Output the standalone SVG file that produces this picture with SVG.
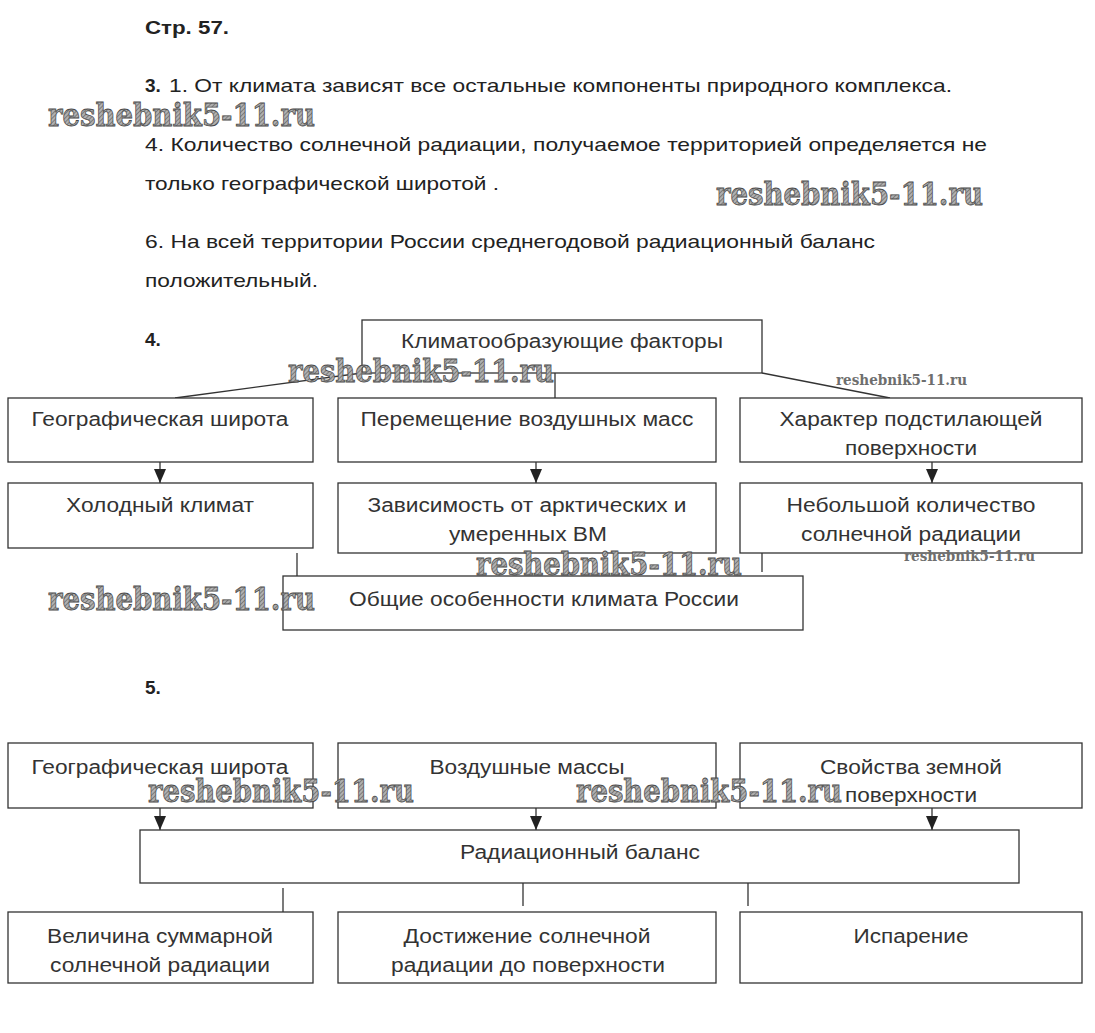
<svg xmlns="http://www.w3.org/2000/svg" width="1095" height="1033" viewBox="0 0 1095 1033">
<defs>
<pattern id="hatch" width="3" height="3" patternUnits="userSpaceOnUse" patternTransform="rotate(45)">
<rect width="3" height="3" fill="#b0b0b0"/>
<line x1="0" y1="0" x2="0" y2="3" stroke="#5e5e5e" stroke-width="1.3"/>
</pattern>
<marker id="arr" viewBox="0 0 14 12" refX="14" refY="6" markerWidth="14" markerHeight="12" markerUnits="userSpaceOnUse" orient="auto">
<path d="M0,0 L14,6 L0,12 Z" fill="#222"/>
</marker>
</defs>
<style>
.body{font-family:"Liberation Sans",Arial,sans-serif;font-size:19px;fill:#222}
.b{font-weight:bold}
.box{fill:#fff;stroke:#333;stroke-width:1.3}
.t{font-family:"Liberation Sans",Arial,sans-serif;font-size:20px;fill:#333;text-anchor:middle}
.wm{font-family:"DejaVu Serif","Liberation Serif",serif;font-weight:bold;fill:url(#hatch);stroke:#4a4a4a;stroke-width:0.8}
.wms{font-family:"DejaVu Serif","Liberation Serif",serif;font-weight:bold;fill:#6e6e6e;font-size:14px}
.c{stroke:#333;stroke-width:1.3;fill:none}
</style>
<rect width="1095" height="1033" fill="#fff"/>

<g id="text-block">
<text class="body b" x="145" y="34" textLength="84" lengthAdjust="spacingAndGlyphs">Стр. 57.</text>
<text class="body b" x="145" y="92">3.</text>
<text class="body" x="169" y="92" textLength="783" lengthAdjust="spacingAndGlyphs">1. От климата зависят все остальные компоненты природного комплекса.</text>
<text class="body" x="145" y="151" textLength="842" lengthAdjust="spacingAndGlyphs">4. Количество солнечной радиации, получаемое территорией определяется не</text>
<text class="body" x="145" y="190" textLength="354" lengthAdjust="spacingAndGlyphs">только географической широтой .</text>
<text class="body" x="145" y="248" textLength="730" lengthAdjust="spacingAndGlyphs">6. На всей территории России среднегодовой радиационный баланс</text>
<text class="body" x="145" y="287" textLength="173" lengthAdjust="spacingAndGlyphs">положительный.</text>
<text class="body b" x="145" y="346">4.</text>
<text class="body b" x="145" y="694">5.</text>
</g>

<g id="connectors">
<line class="c" x1="362" y1="373" x2="175" y2="398"/>
<line class="c" x1="555" y1="373" x2="555" y2="398"/>
<line class="c" x1="762" y1="373" x2="890" y2="398"/>
<line class="c" x1="160" y1="462" x2="160" y2="483" marker-end="url(#arr)"/>
<line class="c" x1="536" y1="462" x2="536" y2="483" marker-end="url(#arr)"/>
<line class="c" x1="932" y1="462" x2="932" y2="483" marker-end="url(#arr)"/>
<line class="c" x1="297" y1="553" x2="297" y2="576"/>
<line class="c" x1="762" y1="548" x2="762" y2="572"/>
<line class="c" x1="160" y1="808" x2="160" y2="830" marker-end="url(#arr)"/>
<line class="c" x1="536" y1="808" x2="536" y2="830" marker-end="url(#arr)"/>
<line class="c" x1="932" y1="808" x2="932" y2="830" marker-end="url(#arr)"/>
<line class="c" x1="283" y1="888" x2="283" y2="912"/>
<line class="c" x1="523" y1="883" x2="523" y2="906"/>
<line class="c" x1="748" y1="883" x2="748" y2="906"/>
</g>

<g id="n-factors"><rect class="box" x="362" y="320" width="400" height="53"/><text class="t" x="562" y="348" textLength="322" lengthAdjust="spacingAndGlyphs">Климатообразующие факторы</text></g>
<g id="n-geo1"><rect class="box" x="8" y="398" width="305" height="64"/><text class="t" x="160" y="426" textLength="257" lengthAdjust="spacingAndGlyphs">Географическая широта</text></g>
<g id="n-air1"><rect class="box" x="338" y="398" width="378" height="64"/><text class="t" x="527" y="426" textLength="333" lengthAdjust="spacingAndGlyphs">Перемещение воздушных масс</text></g>
<g id="n-surf1"><rect class="box" x="740" y="398" width="342" height="64"/><text class="t" x="911" y="426" textLength="263" lengthAdjust="spacingAndGlyphs">Характер подстилающей</text><text class="t" x="911" y="455" textLength="132" lengthAdjust="spacingAndGlyphs">поверхности</text></g>
<g id="n-cold"><rect class="box" x="8" y="483" width="305" height="65"/><text class="t" x="160" y="512" textLength="188" lengthAdjust="spacingAndGlyphs">Холодный климат</text></g>
<g id="n-dep"><rect class="box" x="338" y="483" width="378" height="70"/><text class="t" x="527" y="512" textLength="319" lengthAdjust="spacingAndGlyphs">Зависимость от арктических и</text><text class="t" x="528" y="541" textLength="158" lengthAdjust="spacingAndGlyphs">умеренных ВМ</text></g>
<g id="n-small"><rect class="box" x="740" y="483" width="342" height="70"/><text class="t" x="911" y="512" textLength="249" lengthAdjust="spacingAndGlyphs">Небольшой количество</text><text class="t" x="911" y="541" textLength="220" lengthAdjust="spacingAndGlyphs">солнечной радиации</text></g>
<g id="n-general"><rect class="box" x="283" y="576" width="520" height="54"/><text class="t" x="544" y="606" textLength="390" lengthAdjust="spacingAndGlyphs">Общие особенности климата России</text></g>

<g id="n-geo2"><rect class="box" x="8" y="743" width="305" height="65"/><text class="t" x="160" y="774" textLength="257" lengthAdjust="spacingAndGlyphs">Географическая широта</text></g>
<g id="n-air2"><rect class="box" x="338" y="743" width="378" height="65"/><text class="t" x="527" y="774" textLength="195" lengthAdjust="spacingAndGlyphs">Воздушные массы</text></g>
<g id="n-surf2"><rect class="box" x="740" y="743" width="342" height="65"/><text class="t" x="911" y="774" textLength="182" lengthAdjust="spacingAndGlyphs">Свойства земной</text><text class="t" x="911" y="802" textLength="132" lengthAdjust="spacingAndGlyphs">поверхности</text></g>
<g id="n-rad"><rect class="box" x="140" y="830" width="879" height="53"/><text class="t" x="580" y="859" textLength="240" lengthAdjust="spacingAndGlyphs">Радиационный баланс</text></g>
<g id="n-total"><rect class="box" x="8" y="912" width="305" height="71"/><text class="t" x="160" y="943" textLength="226" lengthAdjust="spacingAndGlyphs">Величина суммарной</text><text class="t" x="160" y="972" textLength="220" lengthAdjust="spacingAndGlyphs">солнечной радиации</text></g>
<g id="n-reach"><rect class="box" x="338" y="912" width="378" height="71"/><text class="t" x="527" y="943" textLength="247" lengthAdjust="spacingAndGlyphs">Достижение солнечной</text><text class="t" x="528" y="972" textLength="274" lengthAdjust="spacingAndGlyphs">радиации до поверхности</text></g>
<g id="n-evap"><rect class="box" x="740" y="912" width="342" height="71"/><text class="t" x="911" y="943" textLength="115" lengthAdjust="spacingAndGlyphs">Испарение</text></g>

<g id="watermarks">
<text class="wm" x="48" y="126" font-size="31" textLength="267" lengthAdjust="spacingAndGlyphs">reshebnik5-11.ru</text>
<text class="wm" x="716" y="205" font-size="31" textLength="267" lengthAdjust="spacingAndGlyphs">reshebnik5-11.ru</text>
<text class="wm" x="288" y="382" font-size="31" textLength="266" lengthAdjust="spacingAndGlyphs">reshebnik5-11.ru</text>
<text class="wm" x="476" y="575" font-size="31" textLength="266" lengthAdjust="spacingAndGlyphs">reshebnik5-11.ru</text>
<text class="wm" x="48" y="610" font-size="31" textLength="267" lengthAdjust="spacingAndGlyphs">reshebnik5-11.ru</text>
<text class="wm" x="148" y="802" font-size="31" textLength="266" lengthAdjust="spacingAndGlyphs">reshebnik5-11.ru</text>
<text class="wm" x="576" y="802" font-size="31" textLength="266" lengthAdjust="spacingAndGlyphs">reshebnik5-11.ru</text>
<text class="wms" x="836" y="385" textLength="131" lengthAdjust="spacingAndGlyphs">reshebnik5-11.ru</text>
<text class="wms" x="904" y="561" textLength="131" lengthAdjust="spacingAndGlyphs">reshebnik5-11.ru</text>
</g>
</svg>
